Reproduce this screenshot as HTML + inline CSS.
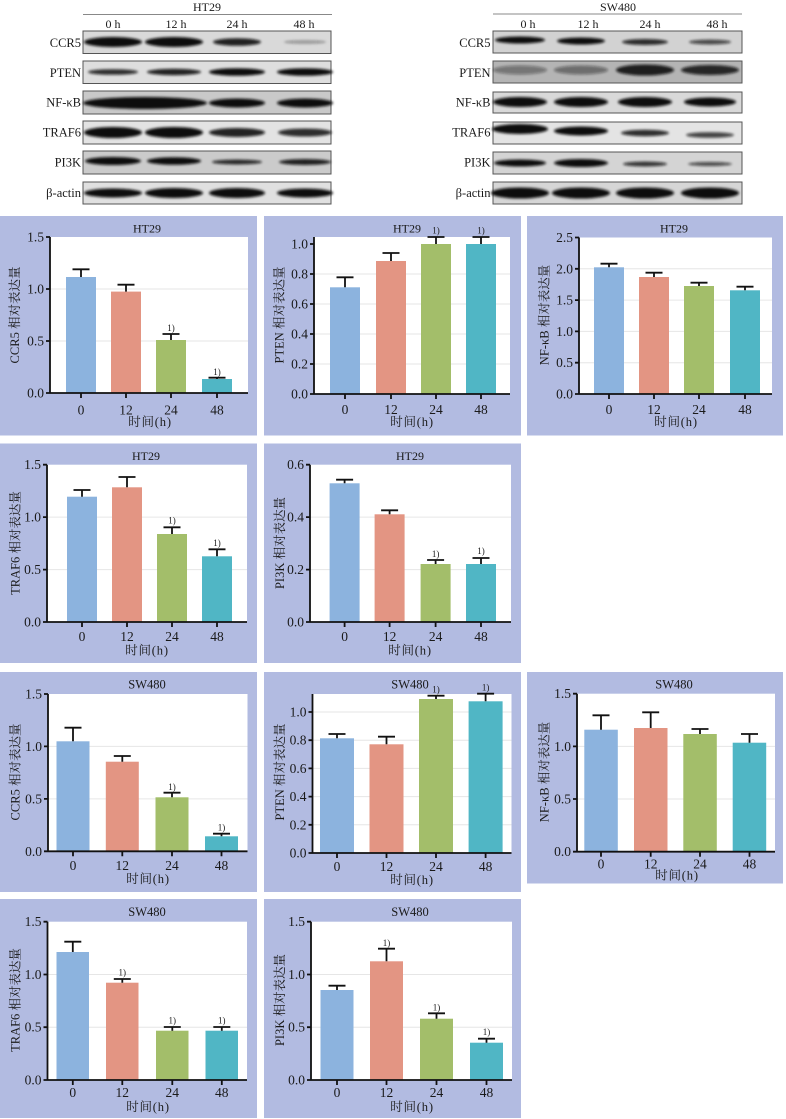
<!DOCTYPE html>
<html><head><meta charset="utf-8">
<style>
html,body{margin:0;padding:0;background:#fff;}
svg{display:block}
text{font-family:"Liberation Serif","Noto Serif CJK SC",serif;fill:#1a1a1a}
.yt{font-size:13.5px;text-anchor:end}
.xt{font-size:13.5px;text-anchor:middle}
.ti{font-size:12px;text-anchor:middle}
.xl{font-size:12.5px;text-anchor:middle;letter-spacing:0.8px}
.yl{font-size:12.5px;text-anchor:middle}
.an{font-size:9px;text-anchor:middle}
.bl{font-size:12.5px;text-anchor:end}
.ln{font-size:12px;text-anchor:middle}
.ax{stroke:#111;stroke-width:1.8;fill:none}
.er{stroke:#111;stroke-width:1.8;fill:none}
.gr{stroke:#e6e6e6;stroke-width:1;fill:none}
.pn{fill:#b2bbe1}
.b0{fill:#8cb3de}.b1{fill:#e39583}.b2{fill:#a3be6a}.b3{fill:#50b6c5}
.st{stroke:#555;stroke-width:1}
</style></head><body>
<svg width="786" height="1119" viewBox="0 0 786 1119" xmlns="http://www.w3.org/2000/svg">
<defs>
<filter id="bl" x="-30%" y="-150%" width="160%" height="400%"><feGaussianBlur stdDeviation="1.3"/></filter>
</defs>

<!-- ===== HT29 western blot ===== -->
<text class="ln" x="207" y="11">HT29</text>
<line x1="83" y1="14.5" x2="332" y2="14.5" stroke="#888" stroke-width="1"/>
<text class="ln" x="113" y="28">0 h</text>
<text class="ln" x="176" y="28">12 h</text>
<text class="ln" x="237" y="28">24 h</text>
<text class="ln" x="304" y="28">48 h</text>

<text class="bl" x="81" y="47">CCR5</text>
<text class="bl" x="81" y="77">PTEN</text>
<text class="bl" x="81" y="106.5">NF-κB</text>
<text class="bl" x="81" y="136.5">TRAF6</text>
<text class="bl" x="81" y="166.5">PI3K</text>
<text class="bl" x="81" y="197">β-actin</text>

<rect class="st" x="83" y="31" width="248" height="22.5" fill="#d9d9d9"/>
<rect class="st" x="83" y="61" width="248" height="22.5" fill="#dedede"/>
<rect class="st" x="83" y="91" width="248" height="23" fill="#c9c9c9"/>
<rect class="st" x="83" y="121" width="248" height="23" fill="#e3e3e3"/>
<rect class="st" x="83" y="151" width="248" height="23" fill="#cbcbcb"/>
<rect class="st" x="83" y="182" width="248" height="22" fill="#e0e0e0"/>
<g filter="url(#bl)" fill="#111">
<ellipse cx="113" cy="42" rx="29" ry="5"/>
<ellipse cx="174" cy="42" rx="29" ry="5"/>
<ellipse cx="237" cy="42" rx="24" ry="3.8" opacity=".9"/>
<ellipse cx="305" cy="42" rx="21" ry="1.8" opacity=".35"/>
<ellipse cx="113" cy="72" rx="25" ry="2.8" opacity=".85"/>
<ellipse cx="174" cy="72" rx="27" ry="3.2" opacity=".9"/>
<ellipse cx="237" cy="72" rx="28" ry="3.8"/>
<ellipse cx="305" cy="72" rx="28" ry="3.8"/>
<ellipse cx="145" cy="103" rx="62" ry="6"/>
<ellipse cx="237" cy="103" rx="28" ry="4.5"/>
<ellipse cx="305" cy="103" rx="28" ry="4.5"/>
<ellipse cx="113" cy="132.5" rx="29" ry="5.5"/>
<ellipse cx="174" cy="132.5" rx="29" ry="5.5"/>
<ellipse cx="237" cy="132.5" rx="28" ry="4.5" opacity=".9"/>
<ellipse cx="305" cy="132.5" rx="27" ry="4" opacity=".85"/>
<ellipse cx="113" cy="161" rx="28" ry="4"/>
<ellipse cx="174" cy="161" rx="27" ry="3.8"/>
<ellipse cx="237" cy="162" rx="25" ry="2.5" opacity=".85"/>
<ellipse cx="305" cy="162" rx="26" ry="3" opacity=".9"/>
<ellipse cx="113" cy="193" rx="29" ry="4.5"/>
<ellipse cx="174" cy="193" rx="29" ry="5"/>
<ellipse cx="237" cy="193" rx="28" ry="5"/>
<ellipse cx="305" cy="193" rx="28" ry="4.5"/>
</g>

<!-- ===== SW480 western blot ===== -->
<text class="ln" x="618" y="11">SW480</text>
<line x1="493" y1="14" x2="742" y2="14" stroke="#888" stroke-width="1"/>
<text class="ln" x="528" y="28">0 h</text>
<text class="ln" x="588" y="28">12 h</text>
<text class="ln" x="650" y="28">24 h</text>
<text class="ln" x="717" y="28">48 h</text>

<text class="bl" x="490.5" y="47">CCR5</text>
<text class="bl" x="490.5" y="77">PTEN</text>
<text class="bl" x="490.5" y="106.5">NF-κB</text>
<text class="bl" x="490.5" y="136.5">TRAF6</text>
<text class="bl" x="490.5" y="166.5">PI3K</text>
<text class="bl" x="490.5" y="197">β-actin</text>

<rect class="st" x="493" y="31" width="249" height="22" fill="#d2d2d2"/>
<rect class="st" x="493" y="61" width="249" height="22" fill="#b4b4b4"/>
<rect class="st" x="493" y="92" width="249" height="21" fill="#d9d9d9"/>
<rect class="st" x="493" y="122" width="249" height="22" fill="#e4e4e4"/>
<rect class="st" x="493" y="152" width="249" height="22" fill="#d4d4d4"/>
<rect class="st" x="493" y="182" width="249" height="22" fill="#d6d6d6"/>
<g filter="url(#bl)" fill="#111">
<ellipse cx="520" cy="40" rx="25" ry="3.5"/>
<ellipse cx="581" cy="41" rx="24" ry="3.5"/>
<ellipse cx="645" cy="42" rx="23" ry="3" opacity=".85"/>
<ellipse cx="710" cy="42" rx="21" ry="2.5" opacity=".7"/>
<ellipse cx="520" cy="70" rx="27" ry="4.5" opacity=".4"/>
<ellipse cx="581" cy="70" rx="27" ry="4.5" opacity=".45"/>
<ellipse cx="645" cy="70" rx="29" ry="5.5" opacity=".9"/>
<ellipse cx="710" cy="70" rx="29" ry="5" opacity=".85"/>
<ellipse cx="520" cy="102" rx="27" ry="5"/>
<ellipse cx="581" cy="102" rx="27" ry="5"/>
<ellipse cx="645" cy="102" rx="27" ry="5"/>
<ellipse cx="710" cy="102" rx="26" ry="4.5"/>
<ellipse cx="520" cy="129" rx="28" ry="5"/>
<ellipse cx="581" cy="131" rx="27" ry="4.5"/>
<ellipse cx="645" cy="133" rx="24" ry="3.2" opacity=".85"/>
<ellipse cx="710" cy="135" rx="24" ry="2.8" opacity=".75"/>
<ellipse cx="520" cy="163" rx="26" ry="3.5"/>
<ellipse cx="581" cy="163" rx="27" ry="4"/>
<ellipse cx="645" cy="164" rx="22" ry="2.5" opacity=".8"/>
<ellipse cx="710" cy="164" rx="22" ry="2" opacity=".7"/>
<ellipse cx="520" cy="193" rx="29" ry="5.5"/>
<ellipse cx="581" cy="193" rx="29" ry="5.5"/>
<ellipse cx="645" cy="193" rx="29" ry="5.5"/>
<ellipse cx="710" cy="193" rx="29" ry="5.5"/>
</g>

<!-- ===== Chart A: HT29 CCR5 ===== -->
<rect class="pn" x="0" y="216" width="257" height="219.5"/>
<rect fill="#fff" x="50" y="237" width="198" height="156"/>
<path class="gr" d="M50 341H248M50 289H248"/>
<rect class="b0" x="66" y="277" width="30" height="116"/>
<rect class="b1" x="111" y="291.6" width="30" height="101.4"/>
<rect class="b2" x="156" y="340" width="30" height="53"/>
<rect class="b3" x="202" y="379" width="30" height="14"/>
<path class="er" d="M81 277V269.3M72.5 269.3H89.5M126 291.6V284.7M117.5 284.7H134.5M171 340V334M162.5 334H179.5M217 379V377.7M208.5 377.7H225.5"/>
<text class="an" x="171" y="331">1)</text><text class="an" x="217" y="375">1)</text>
<path class="ax" d="M50 237V393H248M46 237H50M46 289H50M46 341H50M46 393H50M81 393V398M126 393V398M171 393V398M217 393V398"/>
<text class="yt" x="44" y="397.5">0.0</text><text class="yt" x="44" y="345.5">0.5</text><text class="yt" x="44" y="293.5">1.0</text><text class="yt" x="44" y="241.5">1.5</text>
<text class="xt" x="81" y="414.5">0</text><text class="xt" x="126" y="414.5">12</text><text class="xt" x="171" y="414.5">24</text><text class="xt" x="217" y="414.5">48</text>
<text class="xl" x="150" y="426">时间(h)</text>
<text class="ti" x="147" y="232.5">HT29</text>
<text class="yl" transform="translate(19,315) rotate(-90)">CCR5 相对表达量</text>

<!-- ===== Chart B: HT29 PTEN ===== -->
<rect class="pn" x="264" y="216" width="257" height="219.5"/>
<rect fill="#fff" x="314" y="237" width="196" height="157"/>
<path class="gr" d="M314 364H510M314 334H510M314 304H510M314 274H510"/>
<rect class="b0" x="330" y="287.3" width="30" height="106.7"/>
<rect class="b1" x="376" y="261" width="30" height="133"/>
<rect class="b2" x="421" y="244" width="30" height="150"/>
<rect class="b3" x="466" y="244" width="30" height="150"/>
<path class="er" d="M345 287.3V277.3M336.5 277.3H353.5M391 261V253M382.5 253H399.5M436 244V237M427.5 237H444.5M481 244V237M472.5 237H489.5"/>
<text class="an" x="436" y="233.5">1)</text><text class="an" x="481" y="233.5">1)</text>
<path class="ax" d="M314 237V394H510M310 394H314M310 364H314M310 334H314M310 304H314M310 274H314M310 244H314M345 394V399M391 394V399M436 394V399M481 394V399"/>
<text class="yt" x="308" y="398.5">0.0</text><text class="yt" x="308" y="368.5">0.2</text><text class="yt" x="308" y="338.5">0.4</text><text class="yt" x="308" y="308.5">0.6</text><text class="yt" x="308" y="278.5">0.8</text><text class="yt" x="308" y="248.5">1.0</text>
<text class="xt" x="345" y="414">0</text><text class="xt" x="391" y="414">12</text><text class="xt" x="436" y="414">24</text><text class="xt" x="481" y="414">48</text>
<text class="xl" x="412" y="426">时间(h)</text>
<text class="ti" x="407" y="232.5">HT29</text>
<text class="yl" transform="translate(283.5,315) rotate(-90)">PTEN 相对表达量</text>

<!-- ===== Chart C: HT29 NF-kB ===== -->
<rect class="pn" x="527" y="216" width="256" height="219.5"/>
<rect fill="#fff" x="579" y="237.5" width="193" height="156.5"/>
<path class="gr" d="M579 362.7H772M579 331.4H772M579 300.1H772M579 268.8H772"/>
<rect class="b0" x="594" y="267.3" width="30" height="126.7"/>
<rect class="b1" x="639" y="277" width="30" height="117"/>
<rect class="b2" x="684" y="286" width="30" height="108"/>
<rect class="b3" x="730" y="290.3" width="30" height="103.7"/>
<path class="er" d="M609 267.3V263.7M600.5 263.7H617.5M654 277V272.7M645.5 272.7H662.5M699 286V282.7M690.5 282.7H707.5M745 290.3V286.7M736.5 286.7H753.5"/>
<path class="ax" d="M579 237.5V394H772M575 394H579M575 362.7H579M575 331.4H579M575 300.1H579M575 268.8H579M575 237.5H579M609 394V399M654 394V399M699 394V399M745 394V399"/>
<text class="yt" x="573" y="398.5">0.0</text><text class="yt" x="573" y="367.2">0.5</text><text class="yt" x="573" y="335.9">1.0</text><text class="yt" x="573" y="304.6">1.5</text><text class="yt" x="573" y="273.3">2.0</text><text class="yt" x="573" y="242">2.5</text>
<text class="xt" x="609" y="414">0</text><text class="xt" x="654" y="414">12</text><text class="xt" x="699" y="414">24</text><text class="xt" x="745" y="414">48</text>
<text class="xl" x="676" y="426">时间(h)</text>
<text class="ti" x="674" y="232.5">HT29</text>
<text class="yl" transform="translate(548.5,315) rotate(-90)">NF-κB 相对表达量</text>

<!-- ===== Chart D: HT29 TRAF6 ===== -->
<rect class="pn" x="0" y="443.5" width="257" height="219.5"/>
<rect fill="#fff" x="47" y="464.7" width="200" height="157.3"/>
<path class="gr" d="M47 569.6H247M47 517.1H247"/>
<rect class="b0" x="67" y="496.7" width="30" height="125.3"/>
<rect class="b1" x="112" y="487.3" width="30" height="134.7"/>
<rect class="b2" x="157" y="534" width="30" height="88"/>
<rect class="b3" x="202" y="556.3" width="30" height="65.7"/>
<path class="er" d="M82 496.7V490M73.5 490H90.5M127 487.3V477M118.5 477H135.5M172 534V527.3M163.5 527.3H180.5M217 556.3V549.3M208.5 549.3H225.5"/>
<text class="an" x="172" y="523.5">1)</text><text class="an" x="217" y="546">1)</text>
<path class="ax" d="M47 464.7V622H247M43 622H47M43 569.6H47M43 517.1H47M43 464.7H47M82 622V627M127 622V627M172 622V627M217 622V627"/>
<text class="yt" x="41" y="626.5">0.0</text><text class="yt" x="41" y="574.1">0.5</text><text class="yt" x="41" y="521.6">1.0</text><text class="yt" x="41" y="469.2">1.5</text>
<text class="xt" x="82" y="641">0</text><text class="xt" x="127" y="641">12</text><text class="xt" x="172" y="641">24</text><text class="xt" x="217" y="641">48</text>
<text class="xl" x="147" y="654.5">时间(h)</text>
<text class="ti" x="146" y="460">HT29</text>
<text class="yl" transform="translate(19.5,543) rotate(-90)">TRAF6 相对表达量</text>

<!-- ===== Chart E: HT29 PI3K ===== -->
<rect class="pn" x="264" y="443.5" width="257" height="219.5"/>
<rect fill="#fff" x="310" y="464.7" width="201" height="157.3"/>
<path class="gr" d="M310 569.6H511M310 517.1H511"/>
<rect class="b0" x="329.6" y="483.3" width="30" height="138.7"/>
<rect class="b1" x="374.6" y="514.3" width="30" height="107.7"/>
<rect class="b2" x="420.6" y="564" width="30" height="58"/>
<rect class="b3" x="466" y="564" width="30" height="58"/>
<path class="er" d="M344.6 483.3V479.7M336.1 479.7H353.1M389.6 514.3V510.3M381.1 510.3H398.1M435.6 564V560M427.1 560H444.1M481 564V558M472.5 558H489.5"/>
<text class="an" x="435.6" y="557">1)</text><text class="an" x="481" y="554">1)</text>
<path class="ax" d="M310 464.7V622H511M306 622H310M306 569.6H310M306 517.1H310M306 464.7H310M344.6 622V627M389.6 622V627M435.6 622V627M481 622V627"/>
<text class="yt" x="304" y="626.5">0.0</text><text class="yt" x="304" y="574.1">0.2</text><text class="yt" x="304" y="521.6">0.4</text><text class="yt" x="304" y="469.2">0.6</text>
<text class="xt" x="344.6" y="641">0</text><text class="xt" x="389.6" y="641">12</text><text class="xt" x="435.6" y="641">24</text><text class="xt" x="481" y="641">48</text>
<text class="xl" x="410" y="654.5">时间(h)</text>
<text class="ti" x="410" y="460">HT29</text>
<text class="yl" transform="translate(284,543) rotate(-90)">PI3K 相对表达量</text>

<!-- ===== Chart F: SW480 CCR5 ===== -->
<rect class="pn" x="0" y="672" width="257" height="220"/>
<rect fill="#fff" x="48" y="694" width="199.5" height="157.3"/>
<path class="gr" d="M48 798.9H247.5M48 746.4H247.5"/>
<rect class="b0" x="56.5" y="741.3" width="33" height="110"/>
<rect class="b1" x="105.8" y="761.7" width="33" height="89.6"/>
<rect class="b2" x="155.5" y="797.3" width="33" height="54"/>
<rect class="b3" x="205" y="836.3" width="33" height="15"/>
<path class="er" d="M73 741.3V727.7M64.5 727.7H81.5M122.3 761.7V756M113.8 756H130.8M172 797.3V792.7M163.5 792.7H180.5M221.5 836.3V833.7M213 833.7H230"/>
<text class="an" x="172" y="790">1)</text><text class="an" x="221.5" y="830.5">1)</text>
<path class="ax" d="M48 694V851.3H247.5M44 851.3H48M44 798.9H48M44 746.4H48M44 694H48M73 851.3V856.3M122.3 851.3V856.3M172 851.3V856.3M221.5 851.3V856.3"/>
<text class="yt" x="42" y="855.8">0.0</text><text class="yt" x="42" y="803.4">0.5</text><text class="yt" x="42" y="750.9">1.0</text><text class="yt" x="42" y="698.5">1.5</text>
<text class="xt" x="73" y="870">0</text><text class="xt" x="122.3" y="870">12</text><text class="xt" x="172" y="870">24</text><text class="xt" x="221.5" y="870">48</text>
<text class="xl" x="148" y="883">时间(h)</text>
<text class="ti" x="147" y="688.5" style="font-size:12.5px">SW480</text>
<text class="yl" transform="translate(19.5,772) rotate(-90)">CCR5 相对表达量</text>

<!-- ===== Chart G: SW480 PTEN ===== -->
<rect class="pn" x="264" y="672" width="257" height="220"/>
<rect fill="#fff" x="312.5" y="694" width="199" height="159"/>
<path class="gr" d="M312.5 824.8H511.5M312.5 796.6H511.5M312.5 768.4H511.5M312.5 740.2H511.5M312.5 712H511.5"/>
<rect class="b0" x="320" y="738.3" width="34" height="114.7"/>
<rect class="b1" x="369.5" y="744.3" width="34" height="108.7"/>
<rect class="b2" x="419" y="699" width="34" height="154"/>
<rect class="b3" x="468.6" y="701.3" width="34" height="151.7"/>
<path class="er" d="M337 738.3V734M328.5 734H345.5M386.5 744.3V736.7M378 736.7H395M436 699V695.7M427.5 695.7H444.5M485.6 701.3V693.7M477.1 693.7H494.1"/>
<text class="an" x="436" y="692.5">1)</text><text class="an" x="485.6" y="690.5">1)</text>
<path class="ax" d="M312.5 694V853H511.5M308.5 853H312.5M308.5 824.8H312.5M308.5 796.6H312.5M308.5 768.4H312.5M308.5 740.2H312.5M308.5 712H312.5M337 853V858M386.5 853V858M436 853V858M485.6 853V858"/>
<text class="yt" x="306.5" y="857.5">0.0</text><text class="yt" x="306.5" y="829.3">0.2</text><text class="yt" x="306.5" y="801.1">0.4</text><text class="yt" x="306.5" y="772.9">0.6</text><text class="yt" x="306.5" y="744.7">0.8</text><text class="yt" x="306.5" y="716.5">1.0</text>
<text class="xt" x="337" y="871">0</text><text class="xt" x="386.5" y="871">12</text><text class="xt" x="436" y="871">24</text><text class="xt" x="485.6" y="871">48</text>
<text class="xl" x="412" y="884">时间(h)</text>
<text class="ti" x="410" y="688.5" style="font-size:12.5px">SW480</text>
<text class="yl" transform="translate(284,772) rotate(-90)">PTEN 相对表达量</text>

<!-- ===== Chart H: SW480 NF-kB ===== -->
<rect class="pn" x="527" y="672" width="256" height="211.5"/>
<rect fill="#fff" x="577" y="693.7" width="198" height="158"/>
<path class="gr" d="M577 799H775M577 746.4H775"/>
<rect class="b0" x="584.3" y="729.7" width="33.5" height="122"/>
<rect class="b1" x="634" y="728" width="33.5" height="123.7"/>
<rect class="b2" x="683.3" y="734" width="33.5" height="117.7"/>
<rect class="b3" x="732.7" y="742.7" width="33.5" height="109"/>
<path class="er" d="M601 729.7V715.3M592.5 715.3H609.5M650.7 728V712.3M642.2 712.3H659.2M700 734V729M691.5 729H708.5M749.5 742.7V734M741 734H758"/>
<path class="ax" d="M577 693.7V851.7H775M573 851.7H577M573 799H577M573 746.4H577M573 693.7H577M601 851.7V856.7M650.7 851.7V856.7M700 851.7V856.7M749.5 851.7V856.7"/>
<text class="yt" x="571" y="856.2">0.0</text><text class="yt" x="571" y="803.5">0.5</text><text class="yt" x="571" y="750.9">1.0</text><text class="yt" x="571" y="698.2">1.5</text>
<text class="xt" x="601" y="868.5">0</text><text class="xt" x="650.7" y="868.5">12</text><text class="xt" x="700" y="868.5">24</text><text class="xt" x="749.5" y="868.5">48</text>
<text class="xl" x="677" y="879.5">时间(h)</text>
<text class="ti" x="674" y="688.5" style="font-size:12.5px">SW480</text>
<text class="yl" transform="translate(548.5,772) rotate(-90)">NF-κB 相对表达量</text>

<!-- ===== Chart I: SW480 TRAF6 ===== -->
<rect class="pn" x="0" y="899" width="257" height="219"/>
<rect fill="#fff" x="47.5" y="921.7" width="199.5" height="158.3"/>
<path class="gr" d="M47.5 1027.2H247M47.5 974.5H247"/>
<rect class="b0" x="56.5" y="952" width="32.5" height="128"/>
<rect class="b1" x="106" y="982.7" width="32.5" height="97.3"/>
<rect class="b2" x="156" y="1030.7" width="32.5" height="49.3"/>
<rect class="b3" x="205.5" y="1030.7" width="32.5" height="49.3"/>
<path class="er" d="M72.8 952V941.7M64.3 941.7H81.3M122.3 982.7V979M113.8 979H130.8M172.3 1030.7V1027M163.8 1027H180.8M221.8 1030.7V1027M213.3 1027H230.3"/>
<text class="an" x="122.3" y="975.3">1)</text><text class="an" x="172.3" y="1023.3">1)</text><text class="an" x="221.8" y="1023.3">1)</text>
<path class="ax" d="M47.5 921.7V1080H247M43.5 1080H47.5M43.5 1027.2H47.5M43.5 974.5H47.5M43.5 921.7H47.5M72.8 1080V1085M122.3 1080V1085M172.3 1080V1085M221.8 1080V1085"/>
<text class="yt" x="41.5" y="1084.5">0.0</text><text class="yt" x="41.5" y="1031.7">0.5</text><text class="yt" x="41.5" y="979">1.0</text><text class="yt" x="41.5" y="926.2">1.5</text>
<text class="xt" x="72.8" y="1097">0</text><text class="xt" x="122.3" y="1097">12</text><text class="xt" x="172.3" y="1097">24</text><text class="xt" x="221.8" y="1097">48</text>
<text class="xl" x="148" y="1111">时间(h)</text>
<text class="ti" x="147" y="916" style="font-size:12.5px">SW480</text>
<text class="yl" transform="translate(19.5,1000) rotate(-90)">TRAF6 相对表达量</text>

<!-- ===== Chart J: SW480 PI3K ===== -->
<rect class="pn" x="264" y="899" width="257" height="219"/>
<rect fill="#fff" x="311" y="921.7" width="201" height="158.3"/>
<path class="gr" d="M311 1027.2H512M311 974.5H512"/>
<rect class="b0" x="320.5" y="990" width="33" height="90"/>
<rect class="b1" x="370" y="961.3" width="33" height="118.7"/>
<rect class="b2" x="420" y="1018.7" width="33" height="61.3"/>
<rect class="b3" x="470" y="1042.7" width="33" height="37.3"/>
<path class="er" d="M337 990V985.7M328.5 985.7H345.5M386.5 961.3V948.7M378 948.7H395M436.5 1018.7V1013.3M428 1013.3H445M486.5 1042.7V1038.7M478 1038.7H495"/>
<text class="an" x="386.5" y="946">1)</text><text class="an" x="436.5" y="1010.3">1)</text><text class="an" x="486.5" y="1035">1)</text>
<path class="ax" d="M311 921.7V1080H512M307 1080H311M307 1027.2H311M307 974.5H311M307 921.7H311M337 1080V1085M386.5 1080V1085M436.5 1080V1085M486.5 1080V1085"/>
<text class="yt" x="305" y="1084.5">0.0</text><text class="yt" x="305" y="1031.7">0.5</text><text class="yt" x="305" y="979">1.0</text><text class="yt" x="305" y="926.2">1.5</text>
<text class="xt" x="337" y="1097">0</text><text class="xt" x="386.5" y="1097">12</text><text class="xt" x="436.5" y="1097">24</text><text class="xt" x="486.5" y="1097">48</text>
<text class="xl" x="412" y="1111">时间(h)</text>
<text class="ti" x="410" y="916" style="font-size:12.5px">SW480</text>
<text class="yl" transform="translate(284,1000) rotate(-90)">PI3K 相对表达量</text>
</svg>
</body></html>
